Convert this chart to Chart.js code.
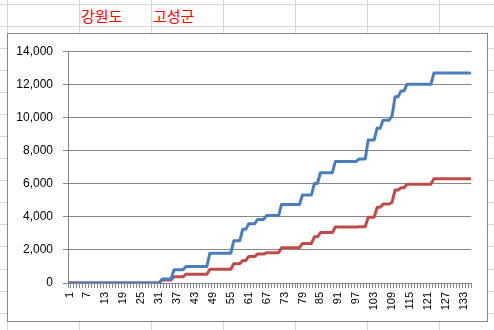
<!DOCTYPE html>
<html><head><meta charset="utf-8">
<script src="https://cdn.jsdelivr.net/npm/chart.js@4/dist/chart.umd.min.js"></script>
<style>
html,body{margin:0;padding:0;background:#fff;width:494px;height:330px;overflow:hidden;position:relative}
.vl{position:absolute;top:0;width:1px;height:330px;background:#d0d7e5}
.hl{position:absolute;left:0;height:1px;width:494px;background:#d0d7e5}
.ttl{position:absolute;top:8px;line-height:15px;font-size:15px;font-family:"Noto Sans CJK KR",sans-serif;color:#ff0000;white-space:nowrap}
#frame{position:absolute;left:7px;top:33px;width:481px;height:289px;box-sizing:border-box;border:1px solid #868686;background:#fff}
#c{position:absolute;left:0;top:0}
</style></head>
<body>
<div id="bg"></div>
<div class="ttl" style="left:81px">강원도</div>
<div class="ttl" style="left:153px">고성군</div>
<div id="frame"><canvas id="c" width="479" height="287"></canvas></div>
<script>
// categories (day index)
const days = Array.from({length:135}, (_, i) => String(i + 1));
const yTicks = [0, 2000, 4000, 6000, 8000, 10000, 12000, 14000];

// series
const blueSeries = [
0,0,0,0,0,0,0,0,0,0, 0,0,0,0,0,0,0,0,0,0, 0,0,0,0,0,0,0,0,0,0, 0,
240,240,240,240,
800,800,800,800,
1000,1000,1000,1000,1000,1000,1000,1000,
1800,1800,1800,1800,1800,1800,1800,1800,
2550,2550,2550,
3240,3240,
3580,3580,3580,
3840,3840,3840,
4075,4075,4075,4075,4075,
4745,4745,4745,4745,4745,4745,4745,
5320,5320,5320,5320,
6010,6010,
6660,6660,6660,6660,6660,
7340,7340,7340,7340,7340,7340,7340,7340,
7490,7490,7490,
8640,8640,8640,
9350,9350,
9830,9830,9830,
10100,
11250,11250,
11600,11600,
12000,12000,12000,12000,12000,12000,12000,12000,12000,
12680,12680,12680,12680,12680,12680,12680,12680,12680,12680,12680,12680,12680
];
const redSeries = [
0,0,0,0,0,0,0,0,0,0, 0,0,0,0,0,0,0,0,0,0, 0,0,0,0,0,0,0,0,0,0, 0,
180,180,180,180,
375,375,375,375,
530,530,530,530,530,530,530,530,
830,830,830,830,830,830,830,830,
1170,1170,1170,
1360,1360,
1600,1600,1600,
1750,1750,1750,
1830,1830,1830,1830,1830,
2135,2135,2135,2135,2135,2135,2135,
2390,2390,2390,2390,
2790,2790,
3045,3045,3045,3045,3045,
3380,3380,3380,3380,3380,3380,3380,3380,
3400,3400,3400,
3975,3975,3975,
4570,4570,
4765,4765,4765,
4880,
5615,5615,
5755,5755,
5970,5970,5970,5970,5970,5970,5970,5970,5970,
6300,6300,6300,6300,6300,6300,6300,6300,6300,6300,6300,6300,6300
];

// spreadsheet cell grid (page decoration)
const bg = document.getElementById('bg');
[7,79,151,223,295,367,439].forEach(x => {
  const d = document.createElement('div'); d.className = 'vl'; d.style.left = x + 'px'; bg.appendChild(d);
});
for (let k = 0; k < 16; k++) {
  const d = document.createElement('div'); d.className = 'hl';
  d.style.top = Math.round(3.5 + 22.09 * k) + 'px'; bg.appendChild(d);
}

const axisGray = '#868686';
const xFont = {family: '"Liberation Sans", Arial, sans-serif', size: 11};
const yFont = {family: '"Liberation Sans", Arial, sans-serif', size: 12};

new Chart(document.getElementById('c'), {
  type: 'line',
  data: {
    labels: days,
    datasets: [
      {data: blueSeries, borderColor: '#4a7ebb', borderWidth: 3, pointRadius: 0, tension: 0, borderJoinStyle: 'round', borderCapStyle: 'round'},
      {data: redSeries, borderColor: '#be4b48', borderWidth: 3, pointRadius: 0, tension: 0, borderJoinStyle: 'round', borderCapStyle: 'round'}
    ]
  },
  options: {
    responsive: false,
    animation: false,
    layout: {padding: {top: 13, right: 15, left: 0, bottom: 0}},
    plugins: {legend: {display: false}, tooltip: {enabled: false}, title: {display: false}},
    scales: {
      x: {
        type: 'category',
        offset: true,
        grid: {offset: true, drawOnChartArea: false, drawTicks: true, tickLength: 5, color: axisGray},
        border: {color: axisGray},
        ticks: {autoSkip: false, maxRotation: 90, minRotation: 90, padding: 4, color: '#000', font: xFont,
          callback: (v, i) => (i % 6 === 0 ? days[i] : '')},
        afterFit: s => { s.height = 38; }
      },
      y: {
        min: 0, max: 14000,
        afterBuildTicks: s => { s.ticks = yTicks.map(v => ({value: v})); },
        grid: {color: axisGray, tickLength: 5},
        border: {color: axisGray},
        ticks: {padding: 10, color: '#000', font: yFont, callback: v => Number(v).toLocaleString('en-US')},
        afterFit: s => { s.width = 60; }
      }
    }
  }
});
</script>
</body></html>
